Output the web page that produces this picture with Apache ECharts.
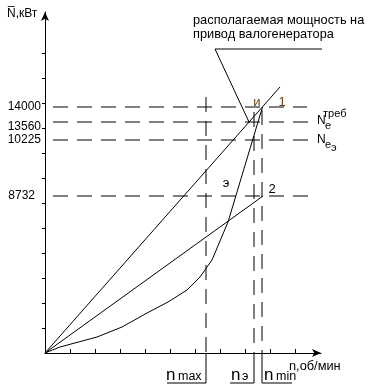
<!DOCTYPE html>
<html>
<head>
<meta charset="utf-8">
<script src="https://cdn.jsdelivr.net/npm/echarts@6/dist/echarts.min.js"></script>
<style>
html,body{margin:0;padding:0;background:#fff;}
#c{width:374px;height:390px;}
</style>
</head>
<body>
<div id="c"></div>
<script>
// ---- data (axis units: 1 unit = one tick step) ----
const line1 = [[0, 0], [9.4, 10.64]];                 // line to point 1
const line2 = [[0, 0], [8.72, 6.28]];                 // line to point 2
const powerCurve = [[0, 0], [0.6, 0.24], [2.08, 0.64], [3.08, 1.04], [4.08, 1.6], [4.92, 2.04],
  [5.68, 2.52], [6.2, 3.04], [6.48, 3.44], [6.68, 3.72], [7.32, 5.24], [8.7, 9.84]];
const levelLabels = ['14000', '13560', '10225', '8732'];
const levelValues = [9.84, 9.24, 8.52, 6.28];
const levelEnds = [10.48, 10.6, 10.6, 10.68];
const speedNames = ['max', 'э', 'min'];
const speedValues = [6.44, 8.36, 8.68];
const speedTops = [10.24, 9.64, 9.72];
const speedBracketEnds = [4.88, 7.4, 9.88];
const bracketDepth = -1.2;
const leader = [[8.16, 9.24], [6.8, 12.16], [11.32, 12.16]];
const yTicks = [1, 2, 3, 4, 5, 6, 7, 8, 9, 10, 11, 12];
const xTicks = [1, 2, 3, 4, 5, 6, 7, 8, 9, 10];

const FONT = 'Liberation Sans, Arial, sans-serif';
const black = '#000';

function lineSeries(data, opts) {
  return Object.assign({
    type: 'line', data: data, symbol: 'none', silent: true, animation: false,
    lineStyle: { color: black, width: 1 }
  }, opts || {});
}

const series = [];
series.push(lineSeries(line1));
series.push(lineSeries(line2));
series.push(lineSeries(powerCurve));
levelValues.forEach((v, i) => {
  series.push(lineSeries([[0, v], [levelEnds[i], v]], {
    lineStyle: { color: black, width: 1, type: [15, 9], dashOffset: 16 }
  }));
});
speedValues.forEach((v, i) => {
  series.push(lineSeries([[v, speedTops[i]], [v, 0]], {
    lineStyle: { color: black, width: 1, type: [15, 9] }
  }));
  series.push(lineSeries([[v, 0], [v, bracketDepth], [speedBracketEnds[i], bracketDepth]], { clip: false }));
});
series.push(lineSeries(leader, { clip: false }));

const labelRich = {
  a: { fontSize: 12, fontFamily: FONT, color: black },
  b: { fontSize: 12, fontFamily: FONT, color: black, padding: [10, 0, 0, 0] },
  c: { fontSize: 12, fontFamily: FONT, color: black, padding: [0, 6, 0, 0] }
};

function txt(text, x, y, size, extra) {
  return {
    type: 'text', silent: true,
    style: Object.assign({ text: text, x: x, y: y, fill: black, font: size + 'px ' + FONT, verticalAlign: 'middle', align: 'left' }, extra || {})
  };
}

const graphics = [
  txt('N\u0305,кВт', 7, 14, 12),
  txt('располагаемая мощность на', 193, 20, 12.8),
  txt('привод валогенератора', 193, 34, 12.8),
  txt('и', 257, 102, 13, { align: 'center', fill: '#6b4318' }),
  txt('1', 282, 102, 13, { align: 'center', fill: '#6b4318' }),
  txt('э', 226, 183, 13, { align: 'center' }),
  txt('2', 272, 189, 13, { align: 'center' }),
  txt('N', 317, 121, 12),
  txt('e', 325, 126, 11),
  txt('треб', 323, 114, 11),
  txt('N', 317, 140, 12),
  txt('e', 325, 145, 11),
  txt('э', 331, 148, 11),
  txt('n,об/мин', 289, 366, 12.8),
  txt('n', 166, 375, 17),
  txt('max', 178, 377, 12.5),
  txt('n', 231, 375, 17),
  txt('э', 242, 377, 12.5),
  txt('n', 264, 375, 17),
  txt('min', 276, 377, 12.5)
];

const chart = echarts.init(document.getElementById('c'), null, { renderer: 'canvas' });
chart.setOption({
  animation: false,
  backgroundColor: '#fff',
  grid: { left: 45, top: 12, width: 276, height: 341, containLabel: false },
  xAxis: {
    type: 'value', min: 0, max: 11.04, interval: 1,
    axisLine: { show: true, onZero: true, symbol: ['none', 'arrow'], symbolSize: [6, 9], lineStyle: { color: black, width: 1 } },
    axisTick: { show: true, inside: true, length: 4, customValues: xTicks, lineStyle: { color: black } },
    axisLabel: { show: false },
    splitLine: { show: false }
  },
  yAxis: {
    type: 'value', min: 0, max: 13.64, interval: 1,
    axisLine: { show: true, onZero: true, symbol: ['none', 'arrow'], symbolSize: [6, 9], lineStyle: { color: black, width: 1 } },
    axisTick: { show: true, inside: false, length: 3, customValues: yTicks, lineStyle: { color: black } },
    axisLabel: {
      show: true, margin: 4, customValues: levelValues,
      formatter: function (v) {
        let best = 0;
        levelValues.forEach((lv, i) => { if (Math.abs(lv - v) < Math.abs(levelValues[best] - v)) best = i; });
        const style = best === 1 ? 'b' : (best === 3 ? 'c' : 'a');
        return '{' + style + '|' + levelLabels[best] + '}';
      },
      rich: labelRich
    },
    splitLine: { show: false }
  },
  series: series,
  graphic: graphics
});
</script>
</body>
</html>
